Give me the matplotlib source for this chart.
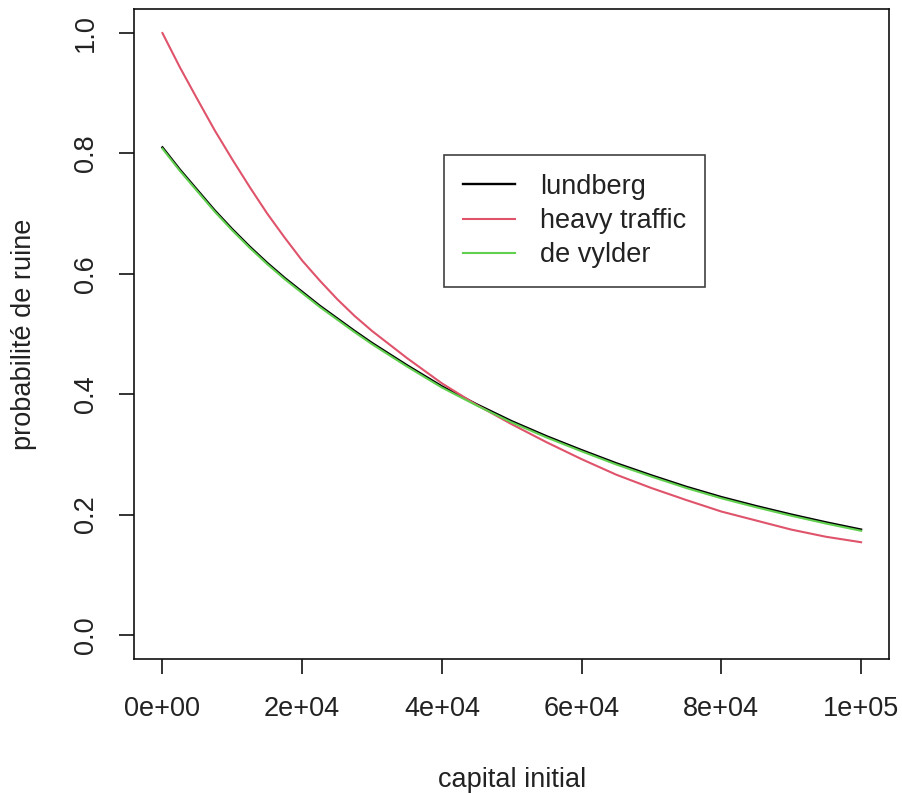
import matplotlib
matplotlib.use('Agg')
import matplotlib.pyplot as plt

# capital initial (x) et probabilites de ruine
capital = [0, 2500, 5000, 7500, 10000, 12500, 15000, 17500, 20000, 22500, 25000, 27500,
           30000, 35000, 40000, 45000, 50000, 55000, 60000, 65000, 70000, 75000, 80000,
           85000, 90000, 95000, 100000]
lundberg = [0.810, 0.773, 0.739, 0.705, 0.674, 0.645, 0.618, 0.593, 0.570, 0.547, 0.526, 0.505,
            0.485, 0.448, 0.413, 0.383, 0.355, 0.330, 0.307, 0.285, 0.265, 0.246, 0.229,
            0.214, 0.200, 0.187, 0.175]
heavy_traffic = [1.000, 0.943, 0.890, 0.838, 0.790, 0.744, 0.700, 0.660, 0.622, 0.589, 0.558, 0.530,
                 0.505, 0.460, 0.418, 0.382, 0.350, 0.320, 0.292, 0.266, 0.244, 0.224, 0.205,
                 0.190, 0.175, 0.163, 0.154]
de_vylder = [0.808, 0.771, 0.737, 0.703, 0.672, 0.643, 0.616, 0.591, 0.568, 0.545, 0.524, 0.503,
             0.483, 0.446, 0.411, 0.381, 0.353, 0.328, 0.305, 0.283, 0.263, 0.244, 0.227,
             0.212, 0.198, 0.185, 0.173]

xticks = [0, 20000, 40000, 60000, 80000, 100000]
xlabels = ['0e+00', '2e+04', '4e+04', '6e+04', '8e+04', '1e+05']
yticks = [0.0, 0.2, 0.4, 0.6, 0.8, 1.0]
ylabels = ['0.0', '0.2', '0.4', '0.6', '0.8', '1.0']

plt.rcParams['font.family'] = ['Liberation Sans', 'DejaVu Sans']
txt = '#222222'

fig = plt.figure(figsize=(9.02, 7.93), dpi=100)
ax = fig.add_axes([0.1491, 0.169, 0.8365, 0.8197])

ax.plot(capital, lundberg, color='black', lw=1.7, label='lundberg')
ax.plot(capital, heavy_traffic, color='#DF536B', lw=1.5, label='heavy traffic')
ax.plot(capital, de_vylder, color='#61D04F', lw=1.5, label='de vylder')

ax.set_xlim(-4000, 104000)
ax.set_ylim(-0.04, 1.04)
ax.set_xticks(xticks)
ax.set_xticklabels(xlabels)
ax.set_yticks(yticks)
ax.set_yticklabels(ylabels, rotation=90, va='center')

for s in ax.spines.values():
    s.set_linewidth(1.2)
    s.set_color('#111111')
ax.tick_params(axis='both', direction='out', length=11, width=1.2, color='#111111',
               labelsize=19.5, labelcolor=txt)
ax.tick_params(axis='x', pad=15.5)
ax.tick_params(axis='y', pad=14.5)

ax.set_xlabel('capital initial', fontsize=19.5, color=txt)
ax.set_ylabel('probabilité de ruine', fontsize=19.5, color=txt)
ax.xaxis.set_label_coords(0.5, -0.166)
ax.yaxis.set_label_coords(-0.129, 0.5)

leg = ax.legend(loc='upper left', bbox_to_anchor=(0.4105, 0.7754), borderaxespad=0,
                fontsize=19.5, frameon=True, fancybox=False, edgecolor='#111111',
                handlelength=1.9, handletextpad=0.93, borderpad=0.7, labelspacing=0.3)
leg.get_frame().set_linewidth(1.2)
for t in leg.get_texts():
    t.set_color(txt)

fig.savefig('out.png', dpi=100)
